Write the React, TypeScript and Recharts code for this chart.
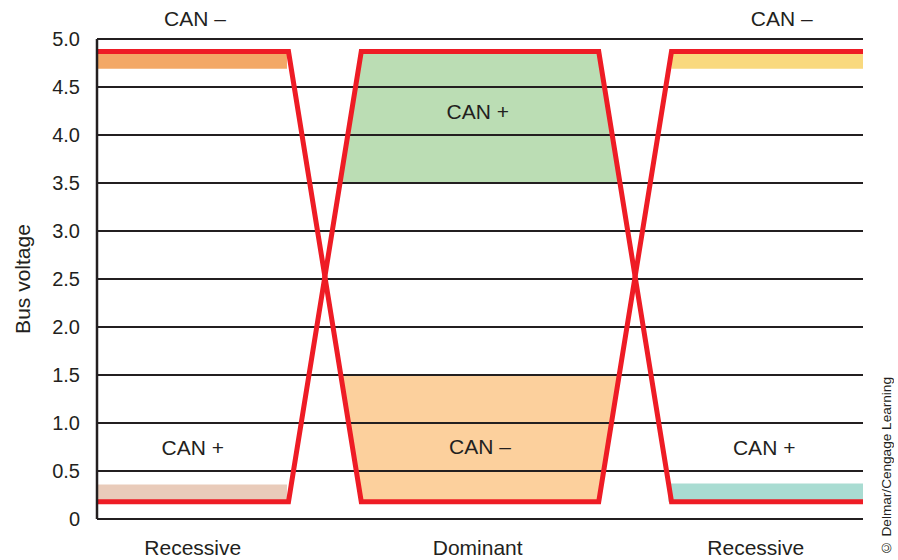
import {
  Area,
  ComposedChart,
  Label,
  Line,
  ReferenceDot,
  ReferenceLine,
  XAxis,
  YAxis,
} from "recharts";

// time axis runs 0..100 across the plot
const yTicks = [0, 0.5, 1, 1.5, 2, 2.5, 3, 3.5, 4, 4.5, 5];
const xTickPos = [12.5, 49.7, 86];
const xTickLabels = ["Recessive", "Dominant", "Recessive"];

const canMinusLine = [
  { t: 0, v: 4.87 },
  { t: 25, v: 4.87 },
  { t: 34.5, v: 0.18 },
  { t: 65.5, v: 0.18 },
  { t: 75, v: 4.87 },
  { t: 100, v: 4.87 },
];
const canPlusLine = [
  { t: 0, v: 0.18 },
  { t: 25, v: 0.18 },
  { t: 34.5, v: 4.87 },
  { t: 65.5, v: 4.87 },
  { t: 75, v: 0.18 },
  { t: 100, v: 0.18 },
];

// shaded bands, [low, high]
const recMinusLeft = [
  { t: 0, r: [4.69, 4.87] },
  { t: 24.8, r: [4.69, 4.87] },
];
const recPlusLeft = [
  { t: 0, r: [0.18, 0.36] },
  { t: 24.8, r: [0.18, 0.36] },
];
const domPlus = [
  { t: 31.8, r: [3.5, 3.5] },
  { t: 34.5, r: [3.5, 4.87] },
  { t: 65.5, r: [3.5, 4.87] },
  { t: 68.1, r: [3.5, 3.5] },
];
const domMinus = [
  { t: 31.9, r: [1.5, 1.5] },
  { t: 34.5, r: [0.18, 1.5] },
  { t: 65.5, r: [0.18, 1.5] },
  { t: 68.1, r: [1.5, 1.5] },
];
const recMinusRight = [
  { t: 75, r: [4.69, 4.87] },
  { t: 100, r: [4.69, 4.87] },
];
const recPlusRight = [
  { t: 74.6, r: [0.18, 0.37] },
  { t: 100, r: [0.18, 0.37] },
];

const noteText = ["CAN –", "CAN –", "CAN +", "CAN +", "CAN –", "CAN +"];
const noteT = [12.8, 89.4, 49.7, 12.5, 50, 87.1];
const noteV = [5.21, 5.21, 4.24, 0.74, 0.75, 0.74];

const ink = "#231F20";
const red = "#EE1C25";

const bands = [
  { data: recMinusLeft, fill: "#F3A866" },
  { data: recPlusLeft, fill: "#E9CBBA" },
  { data: domPlus, fill: "#BBDDB4" },
  { data: domMinus, fill: "#FCD09D" },
  { data: recMinusRight, fill: "#F9D97E" },
  { data: recPlusRight, fill: "#A9DCD2" },
];

export default function App() {
  return (
    <div style={{ width: 882, height: 544 }}>
      <div
        style={{
          position: "fixed",
          left: 0,
          top: 0,
          width: 898,
          height: 560,
          background: "#fff",
          fontFamily: "'Liberation Sans', Arial, sans-serif",
          overflow: "hidden",
        }}
      >
        <ComposedChart
          width={898}
          height={560}
          margin={{ top: 39, right: 35, bottom: 0, left: 0 }}
        >
          <XAxis
            dataKey="t"
            type="number"
            domain={[0, 100]}
            ticks={xTickPos}
            tickFormatter={(v, i) => xTickLabels[i]}
            axisLine={false}
            tickLine={false}
            tickMargin={15}
            height={41}
            tick={{ fill: ink, fontSize: 21 }}
            allowDataOverflow
          />
          <YAxis
            type="number"
            domain={[0, 5]}
            ticks={yTicks}
            interval={0}
            width={97}
            tickLine={false}
            tickMargin={11}
            axisLine={{ stroke: ink, strokeWidth: 2.5 }}
            tickFormatter={(v) => (v === 0 ? "0" : v.toFixed(1))}
            tick={{ fill: ink, fontSize: 20 }}
          >
            <Label
              content={({ viewBox }: any) => {
                const x = viewBox.x + 22;
                const y = viewBox.y + viewBox.height / 2;
                return (
                  <text
                    x={x}
                    y={y}
                    transform={`rotate(-90 ${x} ${y})`}
                    textAnchor="middle"
                    dominantBaseline="central"
                    fill={ink}
                    fontSize={21}
                  >
                    Bus voltage
                  </text>
                );
              }}
            />
          </YAxis>
          {bands.map((b, i) => (
            <Area
              key={"band" + i}
              data={b.data}
              dataKey="r"
              type="linear"
              stroke="none"
              fill={b.fill}
              fillOpacity={1}
              dot={false}
              activeDot={false}
              isAnimationActive={false}
            />
          ))}
          {yTicks.map((y) => (
            <ReferenceLine
              key={"g" + y}
              y={y}
              stroke={ink}
              strokeWidth={2}
              zIndex={250}
            />
          ))}
          <Line
            data={canMinusLine}
            dataKey="v"
            type="linear"
            stroke={red}
            strokeWidth={5}
            dot={false}
            activeDot={false}
            isAnimationActive={false}
          />
          <Line
            data={canPlusLine}
            dataKey="v"
            type="linear"
            stroke={red}
            strokeWidth={5}
            dot={false}
            activeDot={false}
            isAnimationActive={false}
          />
          {noteText.map((txt, i) => (
            <ReferenceDot
              key={"n" + i}
              x={noteT[i]}
              y={noteV[i]}
              r={0}
              fill="none"
              stroke="none"
              ifOverflow="visible"
              label={{ value: txt, position: "center", fill: ink, fontSize: 21 }}
            />
          ))}
        </ComposedChart>
        <div
          style={{
            position: "absolute",
            left: 879,
            top: 377,
            writingMode: "vertical-rl",
            transform: "rotate(180deg)",
            whiteSpace: "nowrap",
            fontSize: 13.6,
            lineHeight: "16px",
            color: ink,
          }}
        >
          © Delmar/Cengage Learning
        </div>
      </div>
    </div>
  );
}
